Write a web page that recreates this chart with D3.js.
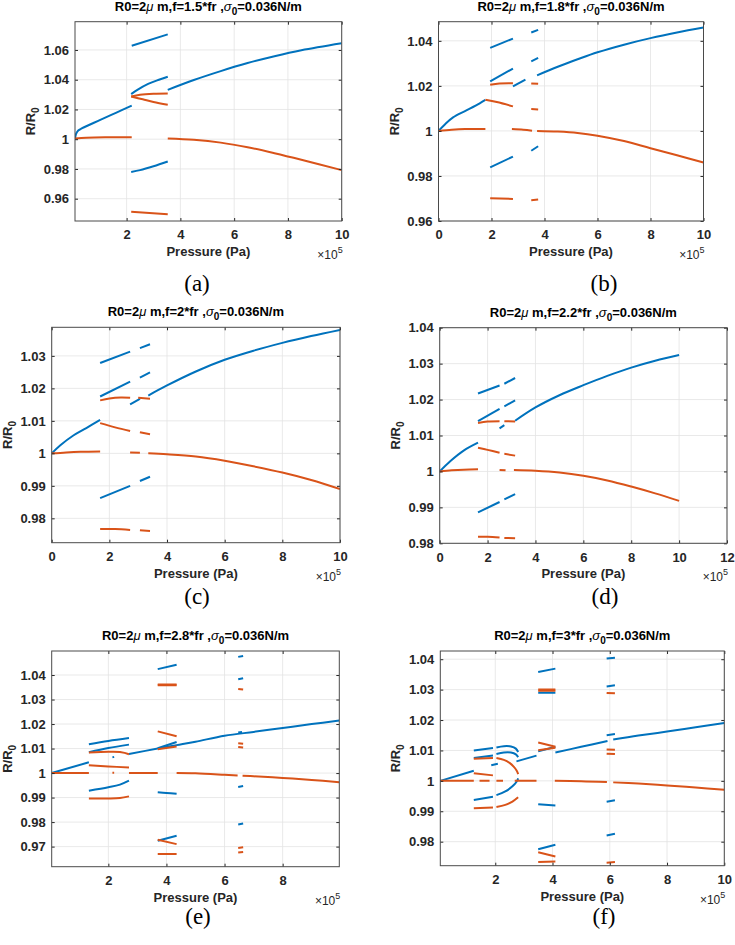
<!DOCTYPE html>
<html><head><meta charset="utf-8">
<script src="https://cdn.jsdelivr.net/npm/d3@7"></script>
<style>body{margin:0;background:#fff}</style>
</head><body><svg id="c" width="735" height="945"></svg>
<script>
// ---------------- DATA ----------------
const fMultipliers = ['1.5', '1.8', '2', '2.2', '2.8', '3'];
const panelLetters = ['(a)', '(b)', '(c)', '(d)', '(e)', '(f)'];

const aXTicks = [2, 4, 6, 8, 10];
const aYTicks = [0.96, 0.98, 1.0, 1.02, 1.04, 1.06];
const aYLabels = ['0.96', '0.98', '1', '1.02', '1.04', '1.06'];
const bXTicks = [0, 2, 4, 6, 8, 10];
const bYTicks = [0.96, 0.98, 1.0, 1.02, 1.04];
const bYLabels = ['0.96', '0.98', '1', '1.02', '1.04'];
const cXTicks = [0, 2, 4, 6, 8, 10];
const cYTicks = [0.98, 0.99, 1.0, 1.01, 1.02, 1.03];
const cYLabels = ['0.98', '0.99', '1', '1.01', '1.02', '1.03'];
const dXTicks = [0, 2, 4, 6, 8, 10, 12];
const dYTicks = [0.98, 0.99, 1.0, 1.01, 1.02, 1.03, 1.04];
const dYLabels = ['0.98', '0.99', '1', '1.01', '1.02', '1.03', '1.04'];
const eXTicks = [2, 4, 6, 8];
const eYTicks = [0.97, 0.98, 0.99, 1.0, 1.01, 1.02, 1.03, 1.04];
const eYLabels = ['0.97', '0.98', '0.99', '1', '1.01', '1.02', '1.03', '1.04'];
const fXTicks = [2, 4, 6, 8, 10];
const fYTicks = [0.98, 0.99, 1.0, 1.01, 1.02, 1.03, 1.04];
const fYLabels = ['0.98', '0.99', '1', '1.01', '1.02', '1.03', '1.04'];

// segments: [pressure (x1e5 Pa), R/R0]
const aBlue = [
  [[0.08,1.0],[0.12,1.0035],[0.2,1.0058],[0.33,1.0072],[1.0,1.0128],[1.6,1.0177],[2.19,1.0226]],
  [[2.19,1.0628],[3.53,1.0705]],
  [[2.17,1.0303],[2.4,1.0332],[2.8,1.0372],[3.2,1.0400],[3.53,1.0420]],
  [[3.53,1.0332],[4.5,1.0398],[5.5,1.0458],[6.5,1.0512],[7.5,1.0558],[8.5,1.0598],[10,1.0645]],
  [[2.17,0.978],[2.5,0.9792],[3.0,0.9818],[3.53,0.985]]
];
const aOrange = [
  [[0.08,1.0005],[0.5,1.001],[1.2,1.0013],[2.19,1.0013]],
  [[2.17,1.0287],[2.5,1.0299],[3.0,1.0306],[3.53,1.0308]],
  [[2.17,1.0287],[2.6,1.0268],[3.0,1.025],[3.53,1.0231]],
  [[3.53,1.0005],[4.5,0.9996],[5.5,0.9977],[6.5,0.9946],[7.5,0.9906],[8.5,0.9862],[10,0.9792]],
  [[2.17,0.9512],[3.53,0.9495]]
];

const bBlue = [
  [[0,1.0],[0.25,1.003],[0.55,1.006],[1.0,1.0088],[1.4,1.0112],[1.77,1.0138]],
  [[1.95,1.0369],[2.81,1.041]],
  [[3.5,1.0437],[3.76,1.0449]],
  [[1.95,1.022],[2.81,1.0277]],
  [[3.5,1.0309],[3.76,1.0324]],
  [[2.81,1.0198],[3.28,1.0228]],
  [[3.72,1.0247],[4.5,1.0285],[5.25,1.0318],[6,1.0349],[7,1.0383],[8,1.0412],[9,1.0437],[10,1.0459]],
  [[1.95,0.9838],[2.81,0.9886]],
  [[3.5,0.9912],[3.76,0.9932]]
];
const bOrange = [
  [[0,1.0],[0.5,1.0005],[1.0,1.0008],[1.77,1.0009]],
  [[2.77,1.0008],[3.2,1.0005],[3.53,1.0001]],
  [[3.72,1.0],[4.5,0.9997],[5.25,0.9991],[6,0.9979],[7,0.9955],[8,0.9923],[9,0.9892],[10,0.986]],
  [[1.77,1.0138],[2.2,1.0128],[2.81,1.0109]],
  [[3.5,1.0097],[3.76,1.0095]],
  [[1.95,1.0205],[2.3,1.0211],[2.81,1.0212]],
  [[3.5,1.0211],[3.76,1.0209]],
  [[1.95,0.9701],[2.81,0.9698]],
  [[3.5,0.9692],[3.76,0.9695]]
];

const cBlue = [
  [[0,1.0],[0.3,1.0025],[0.75,1.0055],[1.2,1.0078],[1.68,1.0103]],
  [[1.68,1.0278],[2.72,1.0313]],
  [[3.06,1.0324],[3.41,1.0336]],
  [[1.68,1.0175],[2.72,1.0221]],
  [[3.06,1.0233],[3.41,1.0249]],
  [[2.72,1.0151],[3.06,1.0168]],
  [[3.35,1.0178],[4,1.0209],[5,1.0252],[6,1.0288],[7,1.0316],[8,1.0340],[9,1.0361],[10,1.0380]],
  [[1.68,0.9862],[2.72,0.99]],
  [[3.06,0.9915],[3.41,0.9928]]
];
const cOrange = [
  [[0,1.0],[0.5,1.0003],[1.0,1.0005],[1.68,1.0006]],
  [[2.72,1.0003],[3.06,1.0002]],
  [[3.35,1.0],[4,0.9997],[5,0.999],[6,0.9977],[7,0.996],[8,0.9941],[9,0.9918],[10,0.989]],
  [[1.68,1.0163],[2.0,1.0169],[2.4,1.0172],[2.72,1.0171]],
  [[3.0,1.0171],[3.41,1.0168]],
  [[1.68,1.0093],[2.2,1.008],[2.72,1.0069]],
  [[3.06,1.0065],[3.41,1.0059]],
  [[1.68,0.9767],[2.2,0.9767],[2.72,0.9764]],
  [[3.06,0.9763],[3.41,0.9761]]
];

const dBlue = [
  [[0,1.0],[0.45,1.0029],[1.0,1.0058],[1.6,1.008]],
  [[1.6,1.0217],[2.5,1.0239]],
  [[2.7,1.0244],[3.15,1.026]],
  [[1.6,1.014],[2.5,1.0174]],
  [[2.7,1.0181],[3.15,1.0198]],
  [[2.5,1.012],[2.7,1.0129]],
  [[3.15,1.0141],[4,1.0178],[5,1.0212],[6,1.024],[7,1.0266],[8,1.0289],[9,1.0308],[10,1.0324]],
  [[1.6,0.9886],[2.5,0.9915]],
  [[2.7,0.9922],[3.15,0.9937]]
];
const dOrange = [
  [[0,1.0],[0.5,1.0003],[1.0,1.0005],[1.6,1.0006]],
  [[2.5,1.0004],[2.75,1.0003]],
  [[3.1,1.0004],[4,1.0002],[5,0.9997],[6,0.9988],[7,0.9975],[8,0.9958],[9,0.9939],[10,0.9918]],
  [[1.6,1.0135],[2.0,1.0139],[2.5,1.014]],
  [[2.7,1.014],[3.15,1.0139]],
  [[1.6,1.0066],[2.0,1.006],[2.5,1.0052]],
  [[2.7,1.0049],[3.15,1.0044]],
  [[1.6,0.9818],[2.0,0.9818],[2.5,0.9816]],
  [[2.7,0.9815],[3.15,0.9814]]
];

const eBlue = [
  [[0.05,1.0],[1.33,1.0044]],
  [[1.33,1.0118],[2.0,1.0131],[2.71,1.0143]],
  [[1.33,1.0085],[2.0,1.0102],[2.71,1.0116]],
  [[2.14,1.0064],[2.2,1.0066]],
  [[2.71,1.0078],[3.7,1.01],[4.35,1.0114],[5,1.0128],[6,1.0152],[7,1.0168],[8,1.0184],[9,1.02],[9.95,1.0214]],
  [[3.7,1.0101],[4.35,1.0127]],
  [[3.7,1.0424],[4.35,1.0442]],
  [[3.7,0.9922],[4.0,0.9919],[4.35,0.9916]],
  [[3.7,0.9724],[4.35,0.9744]],
  [[1.33,0.9928],[2.0,0.9942],[2.4,0.9953],[2.71,0.9969]],
  [[6.47,1.0474],[6.64,1.0478]],
  [[6.47,1.0383],[6.64,1.0387]],
  [[6.47,1.0166],[6.6,1.0168]],
  [[6.47,0.9943],[6.64,0.9947]],
  [[6.47,0.979],[6.64,0.9794]]
];
const eOrange = [
  [[0.05,1.0],[1.33,1.0]],
  [[2.14,1.0001],[2.2,1.0001]],
  [[2.71,1.0],[3.7,1.0]],
  [[4.35,1.0],[5,0.9999],[6,0.9993],[6.45,0.999]],
  [[6.62,0.9989],[7,0.9987],[8,0.998],[9,0.9972],[9.95,0.9963]],
  [[1.33,1.0084],[2.0,1.0087],[2.4,1.0086],[2.71,1.0077]],
  [[1.33,1.0032],[2.0,1.0027],[2.71,1.0023]],
  [[1.33,0.9896],[2.0,0.9896],[2.4,0.9898],[2.71,0.9905]],
  [[3.7,1.0358],[4.35,1.0358]],
  [[3.7,1.0361],[4.35,1.0361]],
  [[3.7,1.017],[4.35,1.015]],
  [[3.7,1.0097],[4.35,1.0108]],
  [[3.7,0.9728],[4.35,0.971]],
  [[3.7,0.967],[4.35,0.967]],
  [[6.47,1.0343],[6.64,1.0341]],
  [[6.47,1.0122],[6.64,1.012]],
  [[6.47,1.0106],[6.64,1.0104]],
  [[6.47,0.9694],[6.64,0.9697]],
  [[6.47,0.9676],[6.64,0.9678]]
];

const fBlue = [
  [[0.08,1.0],[1.25,1.0033]],
  [[1.25,1.0100],[1.92,1.0108]],
  [[2.04,1.011],[2.3,1.0114],[2.55,1.0113],[2.72,1.0106],[2.8,1.0095]],
  [[1.25,1.0075],[1.92,1.0083]],
  [[2.04,1.0088],[2.3,1.0093],[2.55,1.0093],[2.72,1.0087],[2.8,1.0078]],
  [[1.86,1.0051],[2.09,1.0056]],
  [[1.25,0.9937],[1.92,0.9948]],
  [[2.04,0.9953],[2.35,0.9965],[2.6,0.9982],[2.75,0.9998],[2.8,1.0008]],
  [[2.74,1.0064],[3.44,1.0083]],
  [[3.5,1.0097],[4.1,1.0112]],
  [[4.1,1.0093],[5,1.0112],[5.92,1.0131]],
  [[6.12,1.0136],[7,1.0149],[8,1.0162],[9,1.0176],[10,1.019]],
  [[3.5,1.0358],[4.1,1.0369]],
  [[3.5,1.029],[4.1,1.029]],
  [[3.5,0.9923],[4.1,0.9919]],
  [[3.5,0.9775],[4.1,0.979]],
  [[5.89,1.0402],[6.18,1.0405]],
  [[5.89,1.031],[6.18,1.0314]],
  [[5.89,1.015],[6.18,1.0154]],
  [[5.89,0.9931],[6.18,0.9936]],
  [[5.89,0.982],[6.18,0.9826]]
];
const fOrange = [
  [[0.08,1.0],[1.25,1.0]],
  [[1.45,1.0],[1.8,1.0]],
  [[2.04,1.0],[2.27,1.0]],
  [[2.68,1.0],[3.44,1.0]],
  [[4.08,1.0],[5,0.9999],[5.9,0.9996]],
  [[6.12,0.9995],[7,0.9991],[8,0.9985],[9,0.9978],[10,0.9971]],
  [[1.25,1.0073],[1.92,1.0075]],
  [[2.04,1.0075],[2.3,1.0069],[2.5,1.0059],[2.65,1.0046],[2.75,1.0033],[2.8,1.0022]],
  [[1.25,1.0025],[1.92,1.0018]],
  [[1.25,0.991],[1.92,0.9912]],
  [[2.04,0.9914],[2.35,0.9921],[2.6,0.9932],[2.8,0.9946]],
  [[3.5,1.0296],[4.1,1.0296]],
  [[3.5,1.0300],[4.1,1.0300]],
  [[3.5,1.0126],[4.1,1.0112]],
  [[3.5,1.0101],[4.1,1.0109]],
  [[3.5,0.9765],[4.1,0.9751]],
  [[3.5,0.9733],[4.1,0.9735]],
  [[5.89,1.0289],[6.18,1.0288]],
  [[5.89,1.0103],[6.18,1.0102]],
  [[5.89,1.0089],[6.18,1.0088]],
  [[5.89,0.9731],[6.18,0.9733]]
];

// ---------------- LAYOUT ----------------
const panels = [
  {xDom:[0.08,10], yDom:[0.945,1.079], xT:aXTicks, yT:aYTicks, yL:aYLabels, blue:aBlue, orange:aOrange,
   box:{l:75,r:341.7,t:21.7,b:221}, lx:197, ly:291},
  {xDom:[0,10], yDom:[0.96,1.0485], xT:bXTicks, yT:bYTicks, yL:bYLabels, blue:bBlue, orange:bOrange,
   box:{l:438.5,r:703.5,t:21.7,b:221}, lx:604, ly:291},
  {xDom:[0,10], yDom:[0.9725,1.0388], xT:cXTicks, yT:cYTicks, yL:cYLabels, blue:cBlue, orange:cOrange,
   box:{l:51.7,r:340,t:327.3,b:542.7}, lx:197, ly:604},
  {xDom:[0,12], yDom:[0.98,1.04], xT:dXTicks, yT:dYTicks, yL:dYLabels, blue:dBlue, orange:dOrange,
   box:{l:439.7,r:727,t:327.7,b:543.3}, lx:605, ly:604},
  {xDom:[0.05,9.95], yDom:[0.9618,1.0498], xT:eXTicks, yT:eYTicks, yL:eYLabels, blue:eBlue, orange:eOrange,
   box:{l:51.7,r:339.3,t:651,b:866.7}, lx:198, ly:924},
  {xDom:[0.08,10], yDom:[0.9721,1.0427], xT:fXTicks, yT:fYTicks, yL:fYLabels, blue:fBlue, orange:fOrange,
   box:{l:440.3,r:724.3,t:651,b:865.7}, lx:604, ly:924}
];

const svg = d3.select('#c');
svg.append('rect').attr('width',735).attr('height',945).attr('fill','#fff');
const FONT = "'Liberation Sans', Arial, Helvetica, sans-serif";
const SERIF = "'Liberation Serif', 'DejaVu Serif', serif";
const BLUE = '#0072BD', ORANGE = '#D95319', AX = '#262626';

panels.forEach((p, i) => {
  const B = p.box;
  const x = d3.scaleLinear().domain(p.xDom).range([B.l, B.r]);
  const y = d3.scaleLinear().domain(p.yDom).range([B.b, B.t]);
  const g = svg.append('g');

  // grid
  g.append('g').selectAll('line').data(p.xT).join('line')
    .attr('x1', d => x(d)).attr('x2', d => x(d)).attr('y1', B.t).attr('y2', B.b)
    .attr('stroke', '#e3e3e3').attr('stroke-width', 0.8);
  g.append('g').selectAll('line').data(p.yT).join('line')
    .attr('y1', d => y(d)).attr('y2', d => y(d)).attr('x1', B.l).attr('x2', B.r)
    .attr('stroke', '#e3e3e3').attr('stroke-width', 0.8);

  // data
  const cid = 'clip' + i;
  svg.append('clipPath').attr('id', cid).append('rect')
    .attr('x', B.l).attr('y', B.t).attr('width', B.r - B.l).attr('height', B.b - B.t);
  const line = d3.line().x(d => x(d[0])).y(d => y(d[1])).curve(d3.curveCatmullRom.alpha(0.5));
  const dg = g.append('g').attr('clip-path', `url(#${cid})`);
  dg.selectAll('path.b').data(p.blue).join('path').attr('class','b')
    .attr('d', line).attr('fill','none').attr('stroke', BLUE).attr('stroke-width', 2);
  dg.selectAll('path.o').data(p.orange).join('path').attr('class','o')
    .attr('d', line).attr('fill','none').attr('stroke', ORANGE).attr('stroke-width', 2);

  // axes
  const xa = g.append('g').attr('transform', `translate(0,${B.b})`)
    .call(d3.axisBottom(x).tickValues(p.xT).tickFormat(d3.format('d')).tickSizeInner(-3).tickSizeOuter(0).tickPadding(9));
  const ya = g.append('g').attr('transform', `translate(${B.l},0)`)
    .call(d3.axisLeft(y).tickValues(p.yT).tickFormat((d, k) => p.yL[k]).tickSizeInner(-3).tickSizeOuter(0).tickPadding(6));
  const xt = g.append('g').attr('transform', `translate(0,${B.t})`)
    .call(d3.axisTop(x).tickValues(p.xT).tickFormat('').tickSizeInner(-3).tickSizeOuter(0));
  const yr = g.append('g').attr('transform', `translate(${B.r},0)`)
    .call(d3.axisRight(y).tickValues(p.yT).tickFormat('').tickSizeInner(-3).tickSizeOuter(0));
  [xa, ya, xt, yr].forEach(a => {
    a.select('.domain').remove();
    a.selectAll('line').attr('stroke', AX);
    a.selectAll('text').attr('font-family', FONT).attr('font-size', 13).attr('font-weight', 'bold').attr('fill', AX);
  });

  // box
  g.append('rect').attr('x', B.l).attr('y', B.t).attr('width', B.r - B.l).attr('height', B.b - B.t)
    .attr('fill', 'none').attr('stroke', '#4a4a4a').attr('stroke-width', 1);

  const cx = (B.l + B.r) / 2;
  // title
  const t = g.append('text').attr('x', cx).attr('y', B.t - 11).attr('text-anchor', 'middle')
    .attr('font-family', FONT).attr('font-size', 13).attr('font-weight', 'bold').attr('fill', '#000');
  t.append('tspan').text('R0=2');
  t.append('tspan').attr('font-style', 'italic').attr('font-weight', 'normal').text('\u03bc');
  t.append('tspan').text(' m,f=' + fMultipliers[i] + '*fr ,');
  t.append('tspan').attr('font-style', 'italic').attr('font-weight', 'normal').text('\u03c3');
  t.append('tspan').attr('font-size', 10).attr('dy', 4).text('0');
  t.append('tspan').attr('dy', -4).text('=0.036N/m');

  // x label
  g.append('text').attr('x', cx).attr('y', B.b + 35).attr('text-anchor', 'middle')
    .attr('font-family', FONT).attr('font-size', 13).attr('font-weight', 'bold').attr('fill', AX)
    .text('Pressure (Pa)');
  // exponent
  const ex = g.append('text').attr('x', B.r + 1).attr('y', B.b + 38).attr('text-anchor', 'end')
    .attr('font-family', FONT).attr('font-size', 12).attr('fill', AX);
  ex.append('tspan').text('\u00d710');
  ex.append('tspan').attr('font-size', 9).attr('dy', -6).text('5');

  // y label
  const yl = g.append('text').attr('transform', `translate(${B.l - 40},${(B.t + B.b) / 2}) rotate(-90)`)
    .attr('text-anchor', 'middle').attr('font-family', FONT).attr('font-size', 13)
    .attr('font-weight', 'bold').attr('fill', AX);
  yl.append('tspan').text('R/R');
  yl.append('tspan').attr('font-size', 10).attr('dy', 4).text('0');

  // panel letter
  svg.append('text').attr('x', p.lx).attr('y', p.ly).attr('text-anchor', 'middle')
    .attr('font-family', SERIF).attr('font-size', 23).attr('fill', '#000').text(panelLetters[i]);
});
</script>
</body></html>
